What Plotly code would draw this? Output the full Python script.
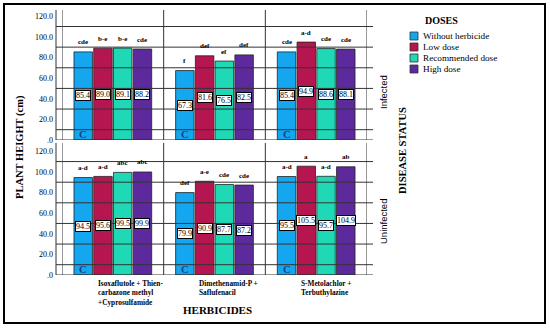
import plotly.graph_objects as go

# ---------------- data ----------------
herbicides = ["Isoxaflutole + Thien-<br>carbazone methyl<br>+Cyprosulfamide",
              "Dimethenamid-P +<br>Saflufenacil",
              "S-Metolachlor +<br>Terbuthylazine"]
doses = ["Without herbicide", "Low dose", "Recommended dose", "High dose"]
colors = ["#14A6EE", "#B5164F", "#1FD9B6", "#5C2A9D"]

# values [dose][herbicide]
infected = [[85.4, 67.3, 85.4],
            [89.0, 81.6, 94.9],
            [89.1, 76.5, 88.6],
            [88.2, 82.5, 88.1]]
infected_letters = [["cde", "f", "cde"],
                    ["b-e", "def", "a-d"],
                    ["b-e", "ef", "cde"],
                    ["cde", "def", "cde"]]
uninfected = [[94.5, 79.9, 95.5],
              [95.6, 90.9, 105.5],
              [99.5, 87.7, 95.7],
              [99.9, 87.2, 104.9]]
uninfected_letters = [["a-d", "def", "a-d"],
                      ["a-d", "a-e", "a"],
                      ["abc", "cde", "a-d"],
                      ["abc", "cde", "ab"]]

tick_vals = [0, 20, 40, 60, 80, 100, 120]
tick_text = [".0", "20.0", "40.0", "60.0", "80.0", "100.0", "120.0"]
grid_vals = [0, 10, 30, 50, 70, 90, 110]

# ---------------- layout helpers ----------------
W, H = 550, 330
L, R, T, B = 62, 367, 10, 275
def px2x(p):
    return (p - L) / (R - L)
def py2y(p):
    return (B - p) / (B - T)

SERIF = "Liberation Serif"
SANS = "Liberation Sans"
bargap = 0.223
slot = (1 - bargap) / len(doses)

fig = go.Figure()
panels = [("x", "y", infected, infected_letters),
          ("x2", "y2", uninfected, uninfected_letters)]

annotations = []
shapes = []
for xa, ya, vals, lets in panels:
    for j, d in enumerate(doses):
        fig.add_trace(go.Bar(
            x=herbicides, y=vals[j], name=d, xaxis=xa, yaxis=ya,
            marker=dict(color=colors[j], line=dict(color="#222222", width=0.8)),
            showlegend=False, hoverinfo="y"))
        for i in range(len(herbicides)):
            xpos = i + (j - 1.5) * slot
            v = vals[j][i]
            annotations.append(dict(
                x=xpos, y=v / 2, xref=xa, yref=ya, text=f"{v:.1f}",
                showarrow=False, xanchor="center", yanchor="middle",
                font=dict(family=SERIF, size=8, color="black"),
                bgcolor="white", bordercolor="black", borderwidth=1, borderpad=0))
            annotations.append(dict(
                x=xpos, y=v, xref=xa, yref=ya, text=f"<b>{lets[j][i]}</b>",
                showarrow=False, xanchor="center", yanchor="middle", yshift=9.5,
                font=dict(family=SERIF, size=7, color="black")))
            if j == 0:
                annotations.append(dict(
                    x=xpos, y=0, xref=xa, yref=ya, text="<b>C</b>",
                    showarrow=False, xanchor="center", yanchor="bottom", yshift=-2,
                    font=dict(family=SERIF, size=10.5, color="#1b3f8b")))
    # gridlines (extend beyond frame as tick stubs)
    for g in grid_vals:
        shapes.append(dict(type="line", xref="paper", yref=ya,
                           x0=px2x(56), x1=px2x(373), y0=g, y1=g,
                           line=dict(color="#333333", width=1)))
    # vertical frame lines and dividers
    for xv in [-0.5, 0.5, 1.5, 2.5]:
        shapes.append(dict(type="line", xref=xa, yref=ya + " domain",
                           x0=xv, x1=xv, y0=0, y1=1,
                           line=dict(color="#333333", width=1)))
    shapes.append(dict(type="line", xref="paper", yref=ya + " domain",
                       x0=px2x(56), x1=px2x(56), y0=0, y1=1,
                       line=dict(color="#333333", width=1)))

# herbicide category labels
for i, h in enumerate(herbicides):
    annotations.append(dict(
        x=i - 0.17, y=py2y(277), xref="x2", yref="paper", text=f"<b>{h}</b>",
        showarrow=False, xanchor="left", yanchor="top", align="left",
        font=dict(family=SERIF, size=7.3, color="black")))

def centered(px, py, text, **kw):
    d = dict(x=px2x(px), y=py2y(py), xref="paper", yref="paper", text=text,
             showarrow=False, xanchor="center", yanchor="middle")
    d.update(kw)
    return d

# titles
annotations += [
    centered(20, 147, "<b>PLANT HEIGHT (cm)</b>", textangle=-90,
             font=dict(family=SERIF, size=10.5, color="black")),
    centered(402, 150, "<b>DISEASE STATUS</b>", textangle=-90,
             font=dict(family=SERIF, size=10.5, color="black")),
    centered(217, 310, "<b>HERBICIDES</b>",
             font=dict(family=SERIF, size=11, color="black")),
    centered(383, 92, "Infected", textangle=-90,
             font=dict(family=SANS, size=9.5, color="black")),
    centered(383, 222, "Uninfected", textangle=-90,
             font=dict(family=SANS, size=9.5, color="black")),
    centered(423, 20, "<b>DOSES</b>", xanchor="left",
             font=dict(family=SERIF, size=10, color="black")),
]

# manual legend
for j, d in enumerate(doses):
    cy = 36 + 11 * j
    shapes.append(dict(type="rect", xref="paper", yref="paper",
                       x0=px2x(410), x1=px2x(418), y0=py2y(cy + 4), y1=py2y(cy - 4),
                       fillcolor=colors[j], line=dict(color="#333333", width=0.8)))
    annotations.append(centered(421, cy, d, xanchor="left",
                                font=dict(family=SERIF, size=9.2, color="black")))

# outer border
shapes.append(dict(type="rect", xref="paper", yref="paper",
                   x0=px2x(4), x1=px2x(545), y0=py2y(323), y1=py2y(4),
                   line=dict(color="black", width=2)))

yax = dict(tickvals=tick_vals, ticktext=tick_text, showgrid=False, zeroline=False,
           showline=False, ticks="", ticklabelstandoff=8,
           tickfont=dict(family=SERIF, size=8, color="black"))
xax = dict(range=[-0.5, 2.5], showticklabels=False, showgrid=False, zeroline=False,
           showline=False, ticks="")

fig.update_layout(
    width=W, height=H, margin=dict(l=L, r=W - R, t=T, b=H - B),
    paper_bgcolor="white", plot_bgcolor="white",
    barmode="group", bargap=bargap, bargroupgap=0.065,
    xaxis=dict(**xax, anchor="y"),
    xaxis2=dict(**xax, anchor="y2", matches="x"),
    yaxis=dict(**yax, domain=[py2y(140), 1.0], range=[0, 126], anchor="x"),
    yaxis2=dict(**yax, domain=[0, py2y(143)], range=[0, 128], anchor="x2"),
    annotations=annotations, shapes=shapes, showlegend=False,
)

fig.write_html("out.html",
               config={"displayModeBar": False},
               post_script="document.body.style.margin='0px';"
                           "document.body.style.overflow='hidden';")
